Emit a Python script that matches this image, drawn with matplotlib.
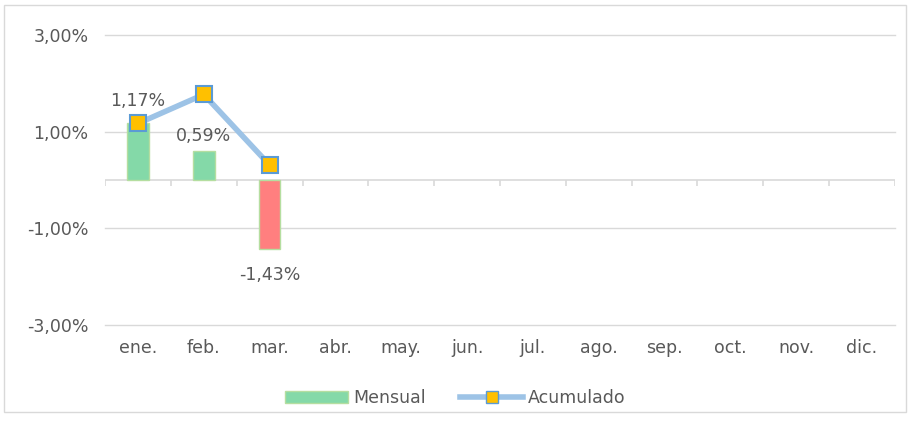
import numpy as np
import matplotlib.pyplot as plt
from matplotlib.patches import Rectangle, Patch
from matplotlib.lines import Line2D

months = ['ene.', 'feb.', 'mar.', 'abr.', 'may.', 'jun.',
          'jul.', 'ago.', 'sep.', 'oct.', 'nov.', 'dic.']
mensual = [1.17, 0.59, -1.43]
acumulado = [1.17, 1.77, 0.31]
yticks = [-3, -1, 1, 3]

TXT = '#595959'
GRID = '#d9d9d9'

plt.rcParams['font.family'] = ['DejaVu Sans']

fig = plt.figure(figsize=(9.11, 4.25), dpi=100)
ax = fig.add_axes([0.1153, 0.2353, 0.8671, 0.6823])

x = np.arange(len(months))
xm = x[:len(mensual)]
colors = ['#84d9a8' if v >= 0 else '#ff7f7f' for v in mensual]
ax.bar(xm, mensual, width=0.33, color=colors, edgecolor='#b5dea0', linewidth=1, zorder=2)

ax.plot(x[:len(acumulado)], acumulado, color='#9dc3e6', linewidth=4, zorder=3,
        marker='s', markersize=11, markerfacecolor='#ffc000',
        markeredgecolor='#5b9bd5', markeredgewidth=1.5)

# label offsets (points) as placed in the original
offsets = [10, 5, -12]
for xi, v, off in zip(xm, mensual, offsets):
    txt = f'{v:.2f}%'.replace('.', ',')
    ax.annotate(txt, (xi, v), xytext=(0, off), textcoords='offset points',
                ha='center', va='bottom' if v >= 0 else 'top',
                fontsize=12.5, color=TXT, zorder=4)

ax.set_xlim(-0.5, len(months) - 0.5)
ax.set_ylim(-3, 3)
ax.set_yticks(yticks)
ax.set_yticklabels([f'{t:.2f}%'.replace('.', ',') for t in yticks])
ax.set_xticks(x)
ax.set_xticklabels(months)
ax.tick_params(length=0, colors=TXT, labelsize=12.5)
ax.tick_params(axis='x', pad=10)
ax.tick_params(axis='y', pad=12)
for s in ax.spines.values():
    s.set_visible(False)
for t in yticks:
    ax.axhline(t, color=GRID, linewidth=1, zorder=0, clip_on=False)
ax.axhline(0, color=GRID, linewidth=1.2, zorder=1)
bounds = np.arange(len(months) + 1) - 0.5
ax.vlines(bounds, 0, -0.12, color=GRID, linewidth=1.2, zorder=1)

handles = [Patch(facecolor='#84d9a8', edgecolor='#b5dea0', label='Mensual'),
           Line2D([0], [0], color='#9dc3e6', linewidth=4, marker='s', markersize=9,
                  markerfacecolor='#ffc000', markeredgecolor='#5b9bd5',
                  label='Acumulado')]
fig.legend(handles=handles, loc='center', bbox_to_anchor=(0.5, 0.063), ncol=2,
           frameon=False, fontsize=12.5, labelcolor=TXT, handlelength=3.6,
           handletextpad=0.3, columnspacing=2.0)

fig.patches.append(Rectangle((0.004, 0.03), 0.99, 0.958, transform=fig.transFigure,
                             fill=False, edgecolor=GRID, linewidth=1))

fig.savefig('out.png', dpi=100)
